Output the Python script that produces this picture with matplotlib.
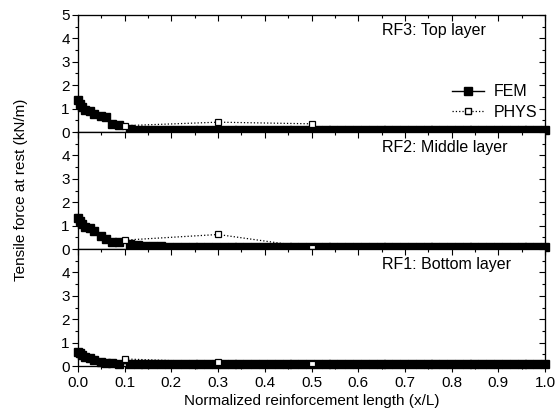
import numpy as np
import matplotlib
matplotlib.use("Agg")
import matplotlib.pyplot as plt
from matplotlib.ticker import MultipleLocator
from matplotlib.lines import Line2D

plt.rcParams['font.family'] = ['Liberation Sans', 'DejaVu Sans']

# FEM x positions (dense near the start, then uniform)
x_head = [0.0, 0.004, 0.008, 0.015, 0.025, 0.035, 0.05, 0.06, 0.072, 0.088]
x_tail = list(np.round(np.linspace(0.111, 1.0, 54), 4))
x_fem = x_head + x_tail

tail_n = len(x_tail)

fem_top = [1.36, 1.2, 1.05, 0.92, 0.88, 0.78, 0.7, 0.64, 0.36, 0.29] + \
          [0.11, 0.09, 0.08, 0.08] + [0.07] * (tail_n - 4)
fem_mid = [1.32, 1.2, 1.07, 0.93, 0.88, 0.75, 0.57, 0.43, 0.29, 0.29] + \
          [0.21, 0.17, 0.14, 0.11, 0.11, 0.1, 0.09] + [0.08] * (tail_n - 7)
fem_bot = [0.61, 0.54, 0.45, 0.4, 0.33, 0.26, 0.19, 0.14, 0.11, 0.1] + \
          [0.1] * tail_n

x_phys = [0.1, 0.3, 0.5]
phys_top = [0.27, 0.42, 0.35]
phys_mid = [0.38, 0.62, 0.06]
phys_bot = [0.3, 0.16, 0.08]

labels = ["RF3: Top layer", "RF2: Middle layer", "RF1: Bottom layer"]
fem_all = [fem_top, fem_mid, fem_bot]
phys_all = [phys_top, phys_mid, phys_bot]

FS = 11

fig = plt.figure(figsize=(5.56, 4.18), dpi=100)
left, width = 78 / 556, (545 - 78) / 556
top_px, bot_px = 15, 366
h_px = (bot_px - top_px) / 3

axes = []
for i in range(3):
    y0 = 1 - (top_px + (i + 1) * h_px) / 418
    ax = fig.add_axes([left, y0, width, h_px / 418])
    axes.append(ax)
    ax.plot(x_fem, fem_all[i], '-', color='black', lw=1.0, marker='s', ms=5.5,
            mfc='black', mec='black', clip_on=False, zorder=3)
    ax.plot(x_phys, phys_all[i], ':', color='black', lw=0.9, marker='s', ms=5,
            mfc='white', mec='black', mew=0.9, clip_on=False, zorder=4)
    ax.set_xlim(0, 1)
    ax.set_ylim(0, 5)
    ax.xaxis.set_major_locator(MultipleLocator(0.1))
    ax.xaxis.set_minor_locator(MultipleLocator(0.05))
    if i == 0:
        ax.set_yticks([0, 1, 2, 3, 4, 5])
    else:
        ax.set_yticks([0, 1, 2, 3, 4])
    ax.yaxis.set_minor_locator(MultipleLocator(0.5))
    ax.tick_params(axis='y', which='both', left=True, right=False, direction='out')
    ax.tick_params(axis='y', which='major', length=4, width=0.8, labelsize=FS, pad=2)
    ax.tick_params(axis='y', which='minor', length=2.5, width=0.8)
    ax.tick_params(axis='x', which='both', direction='out', bottom=True, top=False)
    ax.tick_params(axis='x', which='major', length=4, width=0.8, labelsize=FS, pad=3)
    ax.tick_params(axis='x', which='minor', length=2.5, width=0.8)
    ax2 = ax.twinx()
    ax2.set_ylim(0, 5)
    ax2.yaxis.set_major_locator(MultipleLocator(1))
    ax2.yaxis.set_minor_locator(MultipleLocator(0.5))
    ax2.tick_params(axis='y', which='both', direction='in', labelright=False)
    ax2.tick_params(axis='y', which='major', length=4, width=0.8)
    ax2.tick_params(axis='y', which='minor', length=2.5, width=0.8)
    ax3 = ax.twiny()
    ax3.set_xlim(0, 1)
    ax3.xaxis.set_major_locator(MultipleLocator(0.1))
    ax3.xaxis.set_minor_locator(MultipleLocator(0.05))
    ax3.tick_params(axis='x', which='both', direction='in', labeltop=False)
    ax3.tick_params(axis='x', which='major', length=4, width=0.8)
    ax3.tick_params(axis='x', which='minor', length=2.5, width=0.8)
    for a in (ax, ax2, ax3):
        for s in a.spines.values():
            s.set_linewidth(0.8)
    if i < 2:
        ax.tick_params(axis='x', labelbottom=False)
    ax.text((382 - 78) / 467, 0.87, labels[i], transform=ax.transAxes, ha='left',
            va='center', fontsize=11.5)

handles = [Line2D([], [], color='black', lw=1.0, marker='s', ms=5.5, mfc='black'),
           Line2D([], [], color='black', lw=0.9, ls=':', marker='s', ms=5,
                  mfc='white', mec='black')]
axes[0].legend(handles, ['FEM', 'PHYS'], loc='center left',
               bbox_to_anchor=(0.788, 0.254), borderaxespad=0, frameon=False,
               fontsize=FS + 0.5, handlelength=2.0, handletextpad=0.6,
               labelspacing=0.35)

fig.text(21 / 556, 1 - 190 / 418, "Tensile force at rest (kN/m)", rotation=90,
         ha='center', va='center', fontsize=FS)
fig.text(left + width / 2, 1 - 401 / 418, "Normalized reinforcement length (x/L)",
         ha='center', va='center', fontsize=FS)

fig.savefig("out.png", dpi=100)
